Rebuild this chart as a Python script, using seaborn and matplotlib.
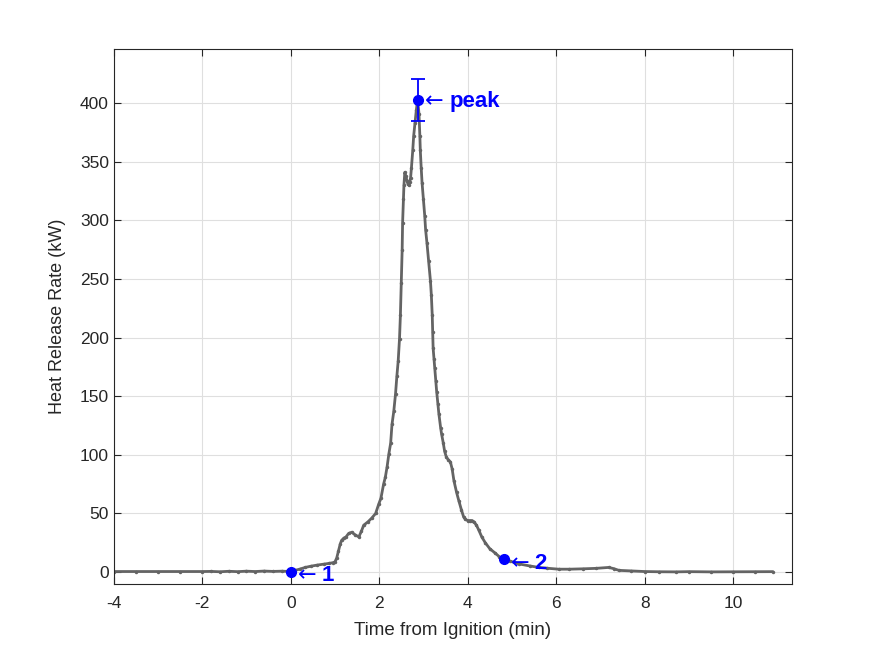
import numpy as np
import pandas as pd
import matplotlib
matplotlib.use("Agg")
import matplotlib.pyplot as plt
import seaborn as sns

# heat release curve (time in min, HRR in kW)
time_min = [-4.0, -3.5, -3.0, -2.5, -2.0, -1.8, -1.6, -1.4, -1.2, -1.0, -0.8, -0.6, -0.4, -0.2,
            0.0, 0.1, 0.2, 0.33, 0.45, 0.6, 0.75, 0.86, 0.95, 1.0, 1.04, 1.08, 1.12, 1.15, 1.2,
            1.25, 1.31, 1.38, 1.45, 1.54, 1.6, 1.65, 1.75, 1.83, 1.92, 1.99, 2.04, 2.1, 2.14,
            2.18, 2.22, 2.26, 2.29, 2.33, 2.37, 2.4, 2.43, 2.46, 2.48, 2.5, 2.52, 2.53, 2.55,
            2.56, 2.58, 2.6, 2.63, 2.65, 2.67, 2.69, 2.71, 2.73, 2.76, 2.78, 2.81, 2.84, 2.87,
            2.9, 2.92, 2.93, 2.95, 2.97, 3.0, 3.03, 3.05, 3.08, 3.12, 3.16, 3.18, 3.2, 3.21,
            3.22, 3.24, 3.26, 3.28, 3.3, 3.33, 3.35, 3.39, 3.41, 3.45, 3.48, 3.52, 3.56, 3.61,
            3.65, 3.69, 3.75, 3.8, 3.86, 3.91, 3.95, 4.0, 4.05, 4.1, 4.14, 4.2, 4.25, 4.32,
            4.4, 4.5, 4.63, 4.72, 4.82, 4.95, 5.16, 5.4, 5.61, 5.8, 6.06, 6.3, 6.6, 6.9, 7.19,
            7.3, 7.42, 7.7, 8.0, 8.33, 8.7, 9.0, 9.5, 10.0, 10.5, 10.9]
hrr_kw = [0.5, 0.5, 0.5, 0.5, 0.5, 0.6, 0.3, 0.7, 0.4, 0.8, 0.5, 0.9, 0.6, 0.8,
          0.5, 1.5, 2.5, 4.0, 5.0, 6.0, 6.8, 7.4, 8.0, 8.7, 12, 18, 24, 27, 29,
          30, 33, 34, 32, 30, 35, 40, 43, 46, 50, 58, 63, 75, 81,
          90, 101, 110, 126, 137, 152, 167, 180, 199, 219, 247, 275, 298, 318,
          330, 341, 338, 334, 331, 330, 333, 336, 345, 360, 372, 383, 394, 403,
          391, 372, 360, 345, 332, 318, 304, 292, 281, 265, 248, 236, 219, 205,
          191, 182, 174, 163, 154, 143, 135, 123, 118, 110, 103, 98, 96, 94,
          88, 78, 68, 61, 53, 47, 45, 44, 44, 44, 43, 40, 36, 30,
          25, 20, 16, 13, 11, 9.5, 7, 5.3, 4, 3.3, 2.5, 2.5, 2.8, 3.2, 4,
          3, 1.5, 1.0, 0.5, 0.3, 0.2, 0.4, 0.2, 0.3, 0.4, 0.4]

# labelled points
pt_labels = ["1", "2"]
pt_time = [0.0, 4.82]
pt_hrr = [0.5, 11.0]
peak_time = 2.87
peak_hrr = 403.0
peak_err = 18.0

xticks = [-4, -2, 0, 2, 4, 6, 8, 10]
yticks = [0, 50, 100, 150, 200, 250, 300, 350, 400]

sns.set_style("whitegrid")
plt.rcParams['font.family'] = ['Liberation Sans', 'DejaVu Sans']
plt.rcParams['axes.unicode_minus'] = False

df = pd.DataFrame({"t": time_min, "q": hrr_kw})

fig = plt.figure(figsize=(8.75, 6.56), dpi=100)
ax = fig.add_axes([0.13, 0.11, 0.775, 0.815])

sns.lineplot(data=df, x="t", y="q", ax=ax, color="#646464", linewidth=2.0,
             marker="o", markersize=2.5, markeredgewidth=0, estimator=None, sort=False)

blue = "#0000ff"
ax.plot(pt_time, pt_hrr, "o", color=blue, markersize=7, zorder=5)
ax.errorbar([peak_time], [peak_hrr], yerr=[peak_err], fmt="o", color=blue,
            markersize=7, capsize=5, elinewidth=1.3, capthick=1.3, zorder=5)

for lab, tx, qy in zip(pt_labels, pt_time, pt_hrr):
    ax.annotate("\u2190", (tx, qy), xytext=(5, -3), textcoords="offset points",
                color=blue, fontsize=16, va="center", ha="left", family="DejaVu Sans")
    ax.annotate(lab, (tx, qy), xytext=(22, -3), textcoords="offset points",
                color=blue, fontsize=16, fontweight="bold", va="center", ha="left")
ax.annotate("\u2190", (peak_time, peak_hrr), xytext=(5, -1), textcoords="offset points",
            color=blue, fontsize=16, va="center", ha="left", family="DejaVu Sans")
ax.annotate("peak", (peak_time, peak_hrr), xytext=(23, -1), textcoords="offset points",
            color=blue, fontsize=16, fontweight="bold", va="center", ha="left")

ax.set_xlim(-4, 11.33)
ax.set_ylim(-10, 446)
ax.set_xticks(xticks)
ax.set_yticks(yticks)
ax.set_xlabel("Time from Ignition (min)", fontsize=13.5, color="#262626", labelpad=8)
ax.set_ylabel("Heat Release Rate (kW)", fontsize=13, color="#262626", labelpad=10)
ax.tick_params(axis="both", direction="in", length=5, width=0.8, labelsize=12.5,
               colors="#262626", top=True, right=True, bottom=True, left=True)
ax.tick_params(axis="x", pad=9)
ax.grid(True, color="#dfdfdf", linewidth=0.8)
for s in ax.spines.values():
    s.set_visible(True)
    s.set_color("#262626")
    s.set_linewidth(0.8)

plt.savefig("out.png", dpi=100)
